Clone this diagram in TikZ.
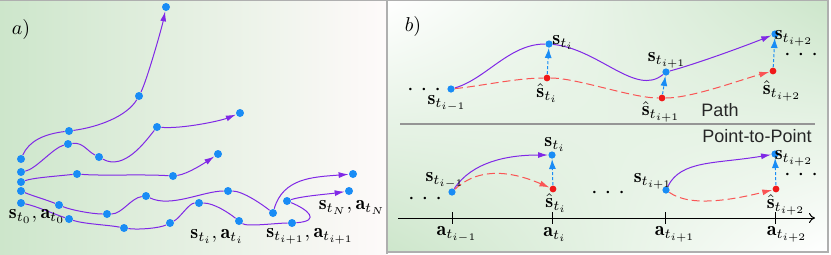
\documentclass[tikz,border=0pt]{standalone}
\usepackage{fontspec}
\newfontfamily\labelsans{Liberation Sans}
\usetikzlibrary{arrows.meta,shadings}
\definecolor{dotblue}{RGB}{25,140,245}
\definecolor{dotred}{RGB}{240,25,25}
\definecolor{dashred}{RGB}{250,85,85}
\definecolor{trajviolet}{RGB}{128,40,230}
\definecolor{bggreen}{RGB}{205,230,203}
\definecolor{bgmid}{RGB}{238,236,232}
\definecolor{bgpink}{RGB}{254,250,250}
\definecolor{framegray}{RGB}{175,175,175}
\newcommand{\threedots}{\raisebox{-3pt}[0.7pt][0.7pt]{$\cdot$\hspace{3.5pt}$\cdot$\hspace{3.5pt}$\cdot$}}
\begin{document}
\begin{tikzpicture}[x=0.5pt,y=-0.5pt,
  bdot/.style={circle, fill=dotblue, inner sep=0pt, minimum size=4pt},
  sbdot/.style={circle, fill=dotblue, inner sep=0pt, minimum size=3.6pt},
  rdot/.style={circle, fill=dotred, inner sep=0pt, minimum size=3.4pt},
  traj/.style={draw=trajviolet, line width=0.5pt},
  trajarrow/.style={traj, -{Latex[length=5pt,width=3pt]}},
  pred/.style={draw=dashred, line width=0.5pt, dash pattern=on 4pt off 2pt},
  predarrow/.style={pred, -{Latex[length=5pt,width=3pt]}},
  corr/.style={draw=dotblue, line width=0.5pt, dash pattern=on 1.5pt off 1pt, -{Latex[length=5pt,width=3.5pt]}},
  lbl/.style={inner sep=0pt, font=\fontsize{10}{12}\selectfont},
  sanslbl/.style={inner sep=0pt, font=\labelsans\fontsize{9}{11}\selectfont, text=black!85},
  dotslbl/.style={inner sep=0pt, font=\fontsize{12}{14}\selectfont}
]
\useasboundingbox (0,0) rectangle (831,254);
% backgrounds
\shade[left color=bggreen, middle color=bgmid, right color=bgpink] (0,0) rectangle (386,254);
\shade[upper left=white, upper right=bggreen, lower left=bggreen, lower right=white] (388,1) rectangle (828,252);
\draw[framegray, line width=0.7pt] (0,0.7) -- (829,0.7);
\draw[framegray, line width=0.8pt] (387,0) -- (387,254);
\draw[framegray, line width=0.7pt] (828,0) -- (828,252) -- (387,252);

% ---------------- panel a ----------------
\node[lbl] (pa) at (21,29) {$a)$};
\node[bdot] (a1) at (21,159) {};
\node[bdot] (a2) at (69,131) {};
\node[bdot] (a3) at (139,96) {};
\node[bdot] (a4) at (166,7) {};
\node[bdot] (b1) at (21,172) {};
\node[bdot] (b2) at (68,144) {};
\node[bdot] (b3) at (99,157) {};
\node[bdot] (b4) at (157,127) {};
\node[bdot] (b5) at (240,113) {};
\node[bdot] (c1) at (21,182) {};
\node[bdot] (c2) at (77,174) {};
\node[bdot] (c3) at (173,176) {};
\node[bdot] (c4) at (218,154) {};
\node[bdot] (d1) at (21,191) {};
\node[bdot] (d2) at (59,205) {};
\node[bdot] (d3) at (107,214) {};
\node[bdot] (d4) at (146,196) {};
\node[bdot] (d5) at (228,191) {};
\node[bdot] (d6) at (273,213) {};
\node[bdot] (d7) at (353,174) {};
\node[bdot] (e1) at (21,203) {};
\node[bdot] (e2) at (69,219) {};
\node[bdot] (e3) at (124,228) {};
\node[bdot] (e4) at (170,223) {};
\node[bdot] (e5) at (199,203) {};
\node[bdot] (e6) at (239,221) {};
\node[bdot] (e7) at (292,223) {};
\node[bdot] (e8) at (287,201) {};
\node[bdot] (e9) at (349,191) {};

\draw[traj] (a1) .. controls +(8,-18) and +(-25,3) .. (a2);
\draw[traj] (a2) .. controls +(30,-4) and +(-12,20) .. (a3);
\draw[trajarrow] (a3) .. controls +(8,-16) and +(-4,20) .. (a4);

\draw[traj] (b1) .. controls +(15,-3) and +(-15,4) .. (b2);
\draw[traj] (b2) .. controls +(15,-2) and +(-12,-6) .. (b3);
\draw[traj] (b3) .. controls +(25,14) and +(-12,15) .. (b4);
\draw[trajarrow] (b4) .. controls +(25,2) and +(-20,8) .. (b5);

\draw[traj] (c1) .. controls +(12,-4) and +(-30,3) .. (c2);
\draw[traj] (c2) .. controls +(25,2) and +(-30,-2) .. (c3);
\draw[trajarrow] (c3) .. controls +(15,-2) and +(-12,8) .. (c4);

\draw[traj] (d1) .. controls +(12,5) and +(-12,-5) .. (d2);
\draw[traj] (d2) .. controls +(12,5) and +(-15,0) .. (d3);
\draw[traj] (d3) .. controls +(15,0) and +(-15,2) .. (d4);
\draw[traj] (d4) .. controls +(25,12) and +(-25,0) .. (d5);
\draw[traj] (d5) .. controls +(15,0) and +(-10,-8) .. (d6);
\draw[trajarrow] (d6) .. controls +(10,-35) and +(-40,3) .. (d7);

\draw[traj] (e1) .. controls +(15,3) and +(-15,-5) .. (e2);
\draw[traj] (e2) .. controls +(15,5) and +(-15,-3) .. (e3);
\draw[traj] (e3) .. controls +(15,2) and +(-10,5) .. (e4);
\draw[traj] (e4) .. controls +(10,-5) and +(-10,0) .. (e5);
\draw[traj] (e5) .. controls +(15,0) and +(-10,-8) .. (e6);
\draw[traj] (e6) .. controls +(8,6) and +(-15,0) .. (e7);
\draw[traj] (e7) .. controls +(30,-2) and +(20,8) .. (e8);
\draw[trajarrow] (e8) .. controls +(15,-5) and +(-20,3) .. (e9);

\node[lbl] (l0) at (37,216) {$\mathbf{s}_{t_0},\mathbf{a}_{t_0}$};
\node[lbl] (li) at (217,236) {$\mathbf{s}_{t_i},\mathbf{a}_{t_i}$};
\node[lbl] (li1) at (310,236) {$\mathbf{s}_{t_{i+1}},\mathbf{a}_{t_{i+1}}$};
\node[lbl] (lN) at (352,207) {$\mathbf{s}_{t_N},\mathbf{a}_{t_N}$};

% ---------------- panel b : path ----------------
\node[lbl] (pb) at (413,26) {$b)$};
\node[dotslbl] (dl1) at (424,89) {\threedots};
\node[dotslbl] (dr1) at (801,54) {\threedots};
\node[sbdot] (p0) at (451,89) {};
\node[sbdot] (p1) at (549,44) {};
\node[sbdot] (p2) at (666,72) {};
\node[sbdot] (p3) at (775,34) {};
\node[rdot] (r1) at (547,78) {};
\node[rdot] (r2) at (662,98) {};
\node[rdot] (r3) at (773,71) {};

\draw[traj] (p0) .. controls +(35,-10) and +(-40,0) .. (p1);
\draw[traj] (p1) .. controls +(50,5) and +(-30,25) .. (p2);
\draw[trajarrow] (p2) .. controls +(30,-8) and +(-30,12) .. (p3);
\draw[pred] (p0) .. controls +(30,-3) and +(-30,0) .. (r1);
\draw[pred] (r1) .. controls +(30,0) and +(-30,0) .. (r2);
\draw[predarrow] (r2) .. controls +(30,0) and +(-30,8) .. (r3);
\draw[corr] (r1) -- (p1);
\draw[corr] (r2) -- (p2);
\draw[corr] (r3) -- (p3);

\node[lbl] (lp0) at (447,103) {$\mathbf{s}_{t_{i-1}}$};
\node[lbl] (lp1) at (563,42) {$\mathbf{s}_{t_i}$};
\node[lbl] (lr1) at (547,93) {$\hat{\mathbf{s}}_{t_i}$};
\node[lbl] (lp2) at (667,60) {$\mathbf{s}_{t_{i+1}}$};
\node[lbl] (lr2) at (661,112) {$\hat{\mathbf{s}}_{t_{i+1}}$};
\node[lbl] (lp3) at (794,38) {$\mathbf{s}_{t_{i+2}}$};
\node[lbl] (lr3) at (782,91) {$\hat{\mathbf{s}}_{t_{i+2}}$};
\node[sanslbl] (tpath) at (720,110) {Path};

\coordinate (sep0) at (400,124);
\coordinate (sep1) at (815,124);
\draw[framegray!85!black, line width=0.7pt] (sep0) -- (sep1);

% ---------------- panel b : point-to-point ----------------
\node[sanslbl] (tptp) at (757,136) {Point-to-Point};
\node[dotslbl] (dl2) at (425,198) {\threedots};
\node[dotslbl] (dm2) at (608,192) {\threedots};
\node[dotslbl] (dr2) at (801,174) {\threedots};
\node[sbdot] (q0) at (452,192) {};
\node[sbdot] (q1) at (552,155) {};
\node[sbdot] (q2) at (666,190) {};
\node[sbdot] (q3) at (775,154) {};
\node[rdot] (s1) at (553,189) {};
\node[rdot] (s3) at (776,189) {};

\draw[trajarrow] (q0) .. controls +(20,-30) and +(-45,0) .. (q1);
\draw[predarrow] (q0) .. controls +(30,-28) and +(-35,-15) .. (s1);
\draw[trajarrow] (q2) .. controls +(15,-30) and +(-60,10) .. (q3);
\draw[predarrow] (q2) .. controls +(25,18) and +(-40,10) .. (s3);
\draw[corr] (s1) -- (q1);
\draw[corr] (s3) -- (q3);

\node[lbl] (lq0) at (445,180) {$\mathbf{s}_{t_{i-1}}$};
\node[lbl] (lq1) at (555,144) {$\mathbf{s}_{t_i}$};
\node[lbl] (ls1) at (556,203) {$\hat{\mathbf{s}}_{t_i}$};
\node[lbl] (lq2) at (653,181) {$\mathbf{s}_{t_{i+1}}$};
\node[lbl] (lq3) at (794,158) {$\mathbf{s}_{t_{i+2}}$};
\node[lbl] (ls3) at (786,205) {$\hat{\mathbf{s}}_{t_{i+2}}$};

% axis
\coordinate (ax0) at (398,218);
\coordinate (ax1) at (815,218);
\draw[line width=0.5pt, -{To[length=3pt,width=5pt]}] (ax0) -- (ax1);
\coordinate (t0) at (452,218);
\coordinate (t1) at (552,218);
\coordinate (t2) at (665,218);
\coordinate (t3) at (775,218);
\foreach \t in {t0,t1,t2,t3} \draw[line width=0.5pt] ([yshift=3pt]\t) -- ([yshift=-3pt]\t);
\node[lbl] (la0) at (457,234) {$\mathbf{a}_{t_{i-1}}$};
\node[lbl] (la1) at (555,234) {$\mathbf{a}_{t_i}$};
\node[lbl] (la2) at (675,234) {$\mathbf{a}_{t_{i+1}}$};
\node[lbl] (la3) at (787,234) {$\mathbf{a}_{t_{i+2}}$};
\end{tikzpicture}
\end{document}
